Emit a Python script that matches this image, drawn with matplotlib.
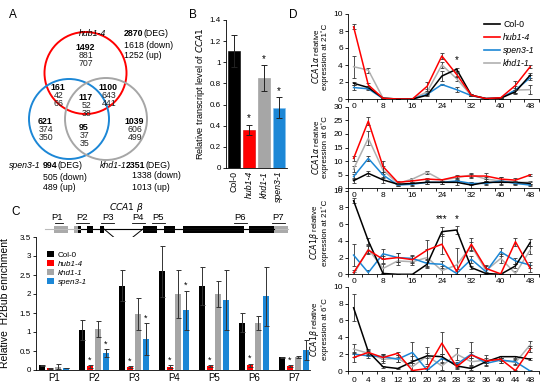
import numpy as np
import matplotlib
matplotlib.use("Agg")
import matplotlib.pyplot as plt
from matplotlib.patches import Circle, Rectangle
from matplotlib.lines import Line2D

plt.rcParams['font.family'] = ['Liberation Sans', 'DejaVu Sans']

W, H = 553, 386
RED = '#ff0000'
BLUE = '#1c87d6'
GRAY = '#a6a6a6'
BLACK = '#000000'

# ---------------- data ----------------
# Panel A (Venn)
venn_total = [1492, 161, 1100, 117, 621, 1039, 95]
venn_down = [881, 42, 643, 52, 374, 606, 37]
venn_up = [707, 66, 441, 38, 350, 499, 35]
deg_names = ['hub1-4', 'spen3-1', 'khd1-1']
deg_total = [2870, 994, 2351]
deg_down = [1618, 505, 1338]
deg_up = [1252, 489, 1013]

# Panel B
b_genotypes = ['Col-0', 'hub1-4', 'khd1-1', 'spen3-1']
b_values = [1.11, 0.36, 0.85, 0.57]
b_errors = [0.15, 0.05, 0.125, 0.10]
b_star = [False, True, True, True]

# Panel C
c_probes = ['P1', 'P2', 'P3', 'P4', 'P5', 'P6', 'P7']
c_col = [0.12, 1.05, 2.22, 2.60, 2.22, 1.25, 0.33]
c_col_err = [0.01, 0.26, 0.40, 0.67, 0.50, 0.25, 0.01]
c_hub = [0.04, 0.10, 0.08, 0.09, 0.11, 0.12, 0.11]
c_hub_err = [0.01, 0.04, 0.03, 0.05, 0.03, 0.05, 0.03]
c_khd = [0.09, 1.08, 1.47, 2.00, 2.00, 1.24, 0.35]
c_khd_err = [0.06, 0.22, 0.42, 0.62, 0.35, 0.18, 0.03]
c_spen = [0.05, 0.45, 0.81, 1.57, 1.84, 1.94, 0.52]
c_spen_err = [0.01, 0.11, 0.42, 0.52, 0.78, 0.77, 0.26]
c_hub_star = [False, True, True, True, True, True, True]
c_spen_star = [False, True, True, True, False, False, False]

# Panel D
time_h = [0, 4, 8, 12, 16, 20, 24, 28, 32, 36, 40, 44, 48]
# CCA1 alpha 21C
a21_col = [1.85, 1.35, 0.1, 0.0, 0.0, 0.45, 2.7, 3.5, 0.45, 0.05, 0.1, 0.85, 2.8]
a21_col_err = [0.2, 0.15, 0.05, 0, 0, 0.15, 0.6, 0.2, 0.1, 0.05, 0.05, 0.2, 0.3]
a21_hub = [8.5, 1.65, 0.08, 0.0, 0.0, 1.5, 5.06, 2.9, 0.45, 0.05, 0.15, 1.6, 3.8]
a21_hub_err = [0.3, 0.2, 0.05, 0, 0, 0.5, 0.35, 0.3, 0.1, 0.05, 0.05, 0.5, 0.15]
a21_spen = [1.35, 1.2, 0.05, 0.0, 0.0, 0.55, 1.7, 1.1, 0.4, 0.05, 0.1, 1.05, 2.5]
a21_spen_err = [0.3, 0.1, 0.05, 0, 0, 0.1, 0.1, 0.3, 0.1, 0.05, 0.05, 0.3, 0.3]
a21_khd = [3.8, 3.4, 0.1, 0.0, 0.0, 0.85, 4.0, 2.4, 0.4, 0.05, 0.1, 1.05, 1.1]
a21_khd_err = [1.3, 0.3, 0.05, 0, 0, 0.3, 0.3, 0.3, 0.1, 0.05, 0.05, 0.5, 0.5]
# CCA1 alpha 6C
a6_col = [2.8, 5.5, 3.1, 1.5, 1.8, 2.2, 2.2, 2.2, 1.2, 2.2, 2.2, 2.2, 1.8]
a6_col_err = [1.0, 1.0, 1.0, 0.5, 0.5, 0.5, 0.5, 1.0, 1.0, 0.5, 0.5, 0.5, 0.5]
a6_hub = [11.0, 24.7, 8.0, 2.2, 2.7, 3.4, 3.1, 4.3, 4.5, 4.5, 3.4, 3.0, 4.9]
a6_hub_err = [1.0, 1.5, 2.0, 0.5, 0.5, 0.5, 0.5, 0.5, 0.7, 1.0, 0.8, 0.7, 0.5]
a6_spen = [4.3, 11.0, 4.9, 1.2, 1.5, 2.2, 2.2, 2.7, 1.8, 1.8, 2.7, 1.8, 1.2]
a6_spen_err = [1.0, 1.0, 1.0, 0.5, 0.5, 0.5, 0.5, 0.5, 0.5, 0.5, 0.5, 0.7, 0.5]
a6_khd = [7.1, 18.4, 6.7, 1.8, 3.4, 5.9, 3.0, 3.9, 4.9, 3.4, 2.7, 2.2, 2.2]
a6_khd_err = [1.0, 2.5, 1.5, 0.5, 0.5, 0.5, 0.5, 0.5, 0.7, 0.7, 1.5, 0.5, 0.5]
# CCA1 beta 21C
b21_col = [8.8, 4.0, 0.1, 0.0, 0.0, 1.2, 5.1, 5.3, 0.8, 0.1, 0.0, 1.0, 3.8]
b21_col_err = [0.3, 0.4, 0.1, 0, 0, 0.3, 0.5, 0.5, 0.2, 0.1, 0, 0.2, 0.4]
b21_hub = [0.2, 2.9, 1.8, 2.0, 1.75, 2.9, 3.6, 0.35, 3.6, 0.7, 0.05, 3.9, 0.7]
b21_hub_err = [0.3, 0.5, 0.4, 0.5, 0.4, 1.2, 1.2, 0.3, 0.8, 0.4, 0.1, 0.5, 0.4]
b21_spen = [2.3, 0.2, 2.45, 2.0, 1.9, 1.3, 1.2, 0.1, 1.8, 0.3, 2.7, 1.6, 1.1]
b21_spen_err = [1.3, 0.3, 0.6, 0.5, 0.4, 0.5, 0.4, 0.3, 0.4, 0.5, 0.5, 0.4, 0.4]
b21_khd = [0.0, 3.0, 0.7, 1.6, 1.5, 2.0, 0.45, 1.1, 3.4, 0.45, 1.9, 0.1, 2.9]
b21_khd_err = [0.3, 0.5, 0.5, 0.5, 0.4, 1.0, 0.5, 2.0, 0.5, 0.5, 0.5, 0.3, 0.5]
# CCA1 beta 6C
b6_col = [7.5, 2.3, 0.5, 0.3, 1.1, 1.8, 1.7, 0.6, 0.3, 1.1, 1.7, 1.7, 1.4]
b6_col_err = [1.6, 0.3, 0.1, 0.1, 0.2, 0.3, 0.3, 0.3, 0.2, 0.2, 0.1, 0.1, 0.1]
b6_hub = [1.6, 2.2, 1.6, 2.1, 0.05, 0.3, 3.3, 0.5, 1.9, 1.2, 1.4, 0.05, 2.6]
b6_hub_err = [0.5, 0.3, 0.4, 0.2, 0.1, 0.3, 1.3, 0.3, 0.4, 0.3, 0.2, 0.1, 0.4]
b6_spen = [2.0, 1.8, 1.7, 1.4, 2.2, 0.1, 1.5, 0.8, 2.0, 0.9, 1.3, 1.1, 0.0]
b6_spen_err = [0.3, 0.3, 0.3, 0.3, 1.2, 0.1, 0.5, 0.3, 1.4, 0.3, 0.3, 0.3, 0.1]
b6_khd = [2.6, 2.1, 1.4, 1.5, 0.5, 1.8, 0.6, 2.0, 1.1, 1.3, 1.3, 1.0, 3.1]
b6_khd_err = [0.6, 0.3, 0.5, 0.4, 1.3, 1.0, 0.5, 0.7, 0.4, 0.6, 0.3, 0.3, 0.4]

# ---------------- figure ----------------
fig = plt.figure(figsize=(W / 100, H / 100), dpi=100)


def ax_px(l, t, r, b, **kw):
    return fig.add_axes([l / W, 1 - b / H, (r - l) / W, (b - t) / H], **kw)


ov = fig.add_axes([0, 0, 1, 1], zorder=0)
ov.set_xlim(0, W)
ov.set_ylim(H, 0)
ov.axis('off')

FS = 6.3
# panel letters
for lab, x, y in [('A', 13, 15), ('B', 193, 15), ('D', 293, 15), ('C', 16, 212)]:
    ov.text(x, y, lab, fontsize=8.5, ha='center', va='center')

# ---------------- Panel A ----------------
ov.add_patch(Circle((85.5, 73), 41, fill=False, ec=RED, lw=1.4))
ov.add_patch(Circle((69, 119), 40, fill=False, ec=BLUE, lw=1.4))
ov.add_patch(Circle((106, 119), 41, fill=False, ec=GRAY, lw=1.4))
venn_pos = [(85, 48), (58, 87), (108, 87), (86, 97), (45, 121), (134, 121), (84, 127)]
for (x, y), t, d, u in zip(venn_pos, venn_total, venn_down, venn_up):
    ov.text(x, y, str(t), fontsize=FS, fontweight='bold', ha='center', va='center')
    ov.text(x + 1, y + 8, str(d), fontsize=FS, ha='center', va='center', color='#222222')
    ov.text(x + 1, y + 16, str(u), fontsize=FS, ha='center', va='center', color='#222222')

deg_layout = [  # name_x, name_y, total_x, deg_x, sub_x
    (79, 34, 124, 143, 124),
    (9, 166, 43, 58, 43),
    (100, 165, 126, 145, 132),
]
for (nx, ny, tx, dx, sx), nm, t, d, u in zip(deg_layout, deg_names, deg_total, deg_down, deg_up):
    ov.text(nx, ny, nm, fontsize=FS, style='italic', ha='left', va='center')
    ov.text(tx, ny, str(t), fontsize=FS, fontweight='bold', ha='left', va='center')
    ov.text(dx, ny, '(DEG)', fontsize=FS, ha='left', va='center')
    ov.text(sx, ny + 11, f'{d} (down)', fontsize=FS, ha='left', va='center')
    ov.text(sx, ny + 22, f'{u} (up)', fontsize=FS, ha='left', va='center')

# ---------------- Panel B ----------------
axB = ax_px(226, 20, 287, 168)
xb = np.arange(len(b_genotypes))
bcols = [BLACK, RED, GRAY, BLUE]
axB.bar(xb, b_values, width=0.83, color=bcols, edgecolor=['#000000', '#d00000', '#999999', '#7fbfef'], lw=0.4)
axB.errorbar(xb, b_values, yerr=b_errors, fmt='none', ecolor='#222222', elinewidth=0.7, capsize=2, capthick=0.7)
for xi, v, e, s in zip(xb, b_values, b_errors, b_star):
    if s:
        axB.text(xi, v + e + 0.06, '*', ha='center', va='center', fontsize=7)
axB.set_xlim(-0.55, 3.55)
axB.set_ylim(0, 1.4)
axB.set_yticks(np.arange(0, 1.41, 0.2))
axB.set_yticklabels(['0', '0.2', '0.4', '0.6', '0.8', '1', '1.2', '1.4'])
axB.set_xticks(xb)
axB.set_xticklabels(b_genotypes, rotation=90)
for i, tl in enumerate(axB.get_xticklabels()):
    if i > 0:
        tl.set_style('italic')
axB.tick_params(axis='x', length=0, labelsize=FS, pad=2)
axB.tick_params(axis='y', labelsize=FS - 0.5, length=2, width=0.6, pad=1.5)
for s in ['top', 'right']:
    axB.spines[s].set_visible(False)
for s in ['left', 'bottom']:
    axB.spines[s].set_linewidth(0.6)
axB.set_ylabel(r'Relative transcript level of $\it{CCA1}$', fontsize=FS + 0.3, labelpad=2)

# ---------------- Panel C ----------------
axC = ax_px(36, 237, 310, 370)
xc = np.arange(len(c_probes))
off = 0.2
bw = 0.16
series_c = [(c_col, c_col_err, BLACK, 'Col-0'), (c_hub, c_hub_err, RED, 'hub1-4'),
            (c_khd, c_khd_err, GRAY, 'khd1-1'), (c_spen, c_spen_err, BLUE, 'spen3-1')]
for k, (vals, errs, colr, lab) in enumerate(series_c):
    xs = xc + (k - 1.5) * off
    axC.bar(xs, vals, width=bw, color=colr, label=lab, lw=0)
    axC.errorbar(xs, vals, yerr=errs, fmt='none', ecolor='#333333', elinewidth=0.7, capsize=1.8, capthick=0.7)
for i in range(len(c_probes)):
    if c_hub_star[i]:
        axC.text(xc[i] - 0.5 * off, c_hub[i] + c_hub_err[i] + 0.13, '*', ha='center', va='center', fontsize=6.5)
    if c_spen_star[i]:
        axC.text(xc[i] + 1.5 * off, c_spen[i] + c_spen_err[i] + 0.13, '*', ha='center', va='center', fontsize=6.5)
axC.set_xlim(-0.45, 6.4)
axC.set_ylim(0, 3.5)
axC.set_yticks(np.arange(0, 3.51, 0.5))
axC.set_yticklabels(['0', '0.5', '1', '1.5', '2', '2.5', '3', '3.5'])
axC.set_xticks(xc)
axC.set_xticklabels(c_probes)
axC.tick_params(axis='x', length=0, labelsize=FS + 0.7, pad=2.5)
axC.tick_params(axis='y', labelsize=FS - 0.5, length=2, width=0.6, pad=1.5)
for s in ['top', 'right']:
    axC.spines[s].set_visible(False)
for s in ['left', 'bottom']:
    axC.spines[s].set_linewidth(0.6)
axC.set_ylabel('Relative  H2Bub enrichment', fontsize=FS + 1.2, labelpad=7)
leg = axC.legend(loc='upper left', bbox_to_anchor=(0.03, 0.92), frameon=False, fontsize=FS - 0.5,
                 handlelength=0.8, handleheight=0.8, handletextpad=0.5, labelspacing=0.15, borderaxespad=0)
for i, t in enumerate(leg.get_texts()):
    if i > 0:
        t.set_style('italic')

# gene structure above panel C (pixel coordinates)
gy = 229
ov.plot([45, 288], [gy, gy], color='#bbbbbb', lw=0.8)
ov.plot([81, 274], [gy, gy], color='black', lw=0.8)
exons = [(54, 68, '#aaaaaa'), (74, 78, '#aaaaaa'), (78, 81, 'black'), (87, 93, 'black'),
         (100, 104, 'black'), (143, 157, 'black'), (164, 175, 'black'), (183, 244, 'black'),
         (249, 274, 'black'), (274, 288, '#aaaaaa')]
for x0, x1, c in exons:
    ov.add_patch(Rectangle((x0, gy - 3.5), x1 - x0, 7, color=c, lw=0))
ov.plot([104, 123, 143], [gy, 245, gy], color='black', lw=0.7)
ov.text(127, 207, r'$\it{CCA1\ \beta}$', fontsize=FS + 0.3, ha='center', va='center')
ov.text(125, 252, r'$\it{CCA1\ \alpha}$', fontsize=FS + 0.3, ha='center', va='center')
probe_pos = [(57, 55, 63), (82, 76, 89), (108, 101, 114), (138, 132, 145), (158, 152, 165),
             (240, 234, 247), (278, 272, 285)]
for lab, (px, u0, u1) in zip(c_probes, probe_pos):
    ov.text(px, 218, lab, fontsize=FS + 0.5, ha='center', va='center')
    ov.plot([u0, u1], [222.5, 222.5], color='black', lw=0.6)

# ---------------- Panel D ----------------
d_panels = [
    (14, 99, 10, 2, [a21_col, a21_hub, a21_spen, a21_khd], [a21_col_err, a21_hub_err, a21_spen_err, a21_khd_err],
     r'$\it{CCA1\alpha}$ relative' + '\nexpression at 21˚C'),
    (106.7, 188.3, 30, 5, [a6_col, a6_hub, a6_spen, a6_khd], [a6_col_err, a6_hub_err, a6_spen_err, a6_khd_err],
     r'$\it{CCA1\alpha}$ relative' + '\nexpression at 6˚C'),
    (190.7, 274.3, 10, 2, [b21_col, b21_hub, b21_spen, b21_khd], [b21_col_err, b21_hub_err, b21_spen_err, b21_khd_err],
     r'$\it{CCA1\beta}$ relative' + '\nexpression at 21˚C'),
    (286.7, 371, 10, 2, [b6_col, b6_hub, b6_spen, b6_khd], [b6_col_err, b6_hub_err, b6_spen_err, b6_khd_err],
     r'$\it{CCA1\beta}$ relative' + '\nexpression at 6˚C'),
]
d_names = ['Col-0', 'hub1-4', 'spen3-1', 'khd1-1']
d_colors = [BLACK, RED, BLUE, '#b0b0b0']
d_order = [3, 2, 0, 1]  # drawing order (z)
for pi, (top, bot, ymax, ystep, series, errs, ylab) in enumerate(d_panels):
    ax = ax_px(347.7, top, 539, bot)
    for k in d_order:
        ax.errorbar(time_h, series[k], yerr=errs[k], color=d_colors[k], lw=1.1, elinewidth=0.6,
                    ecolor='#333333', capsize=1.6, capthick=0.6, zorder=2 + (k == 1) * 0.5, label=d_names[k])
    ax.set_xlim(-1.6, 49.6)
    ax.set_ylim(0, ymax)
    ax.set_yticks(np.arange(0, ymax + 0.01, ystep))
    ax.tick_params(axis='y', labelsize=FS - 0.3, length=2, width=0.6, pad=1.5)
    if pi < 3:
        ax.set_xticks(time_h[::2])
        ax.tick_params(axis='x', labelsize=FS - 0.3, length=0, pad=3)
    else:
        ax.set_xticks(time_h)
        ax.tick_params(axis='x', labelsize=FS - 0.3, length=0, pad=4)
    ax.set_xticks(np.arange(-2, 50.1, 4) + 0.4, minor=True)
    ax.tick_params(axis='x', which='minor', length=2, width=0.6)
    for s in ['top', 'right']:
        ax.spines[s].set_visible(False)
    for s in ['left', 'bottom']:
        ax.spines[s].set_linewidth(0.6)
    ax.set_ylabel(ylab, fontsize=FS - 0.6, labelpad=3, linespacing=1.15)
    ax.patch.set_alpha(0)
    if pi == 0:
        handles = [Line2D([], [], color=d_colors[k], lw=1.2) for k in range(4)]
        lg = ax.legend(handles, d_names, loc='upper right', bbox_to_anchor=(1.02, 1.02), frameon=False,
                       fontsize=FS, handlelength=1.8, handletextpad=0.4, labelspacing=0.45)
        for i, t in enumerate(lg.get_texts()):
            if i > 0:
                t.set_style('italic')
        ax.text(28, 4.6, '*', ha='center', va='center', fontsize=7)
    if pi == 2:
        ax.text(24, 6.6, '***', ha='center', va='center', fontsize=7)
        ax.text(28, 6.6, '*', ha='center', va='center', fontsize=7)

fig.savefig('out.png', dpi=100)
